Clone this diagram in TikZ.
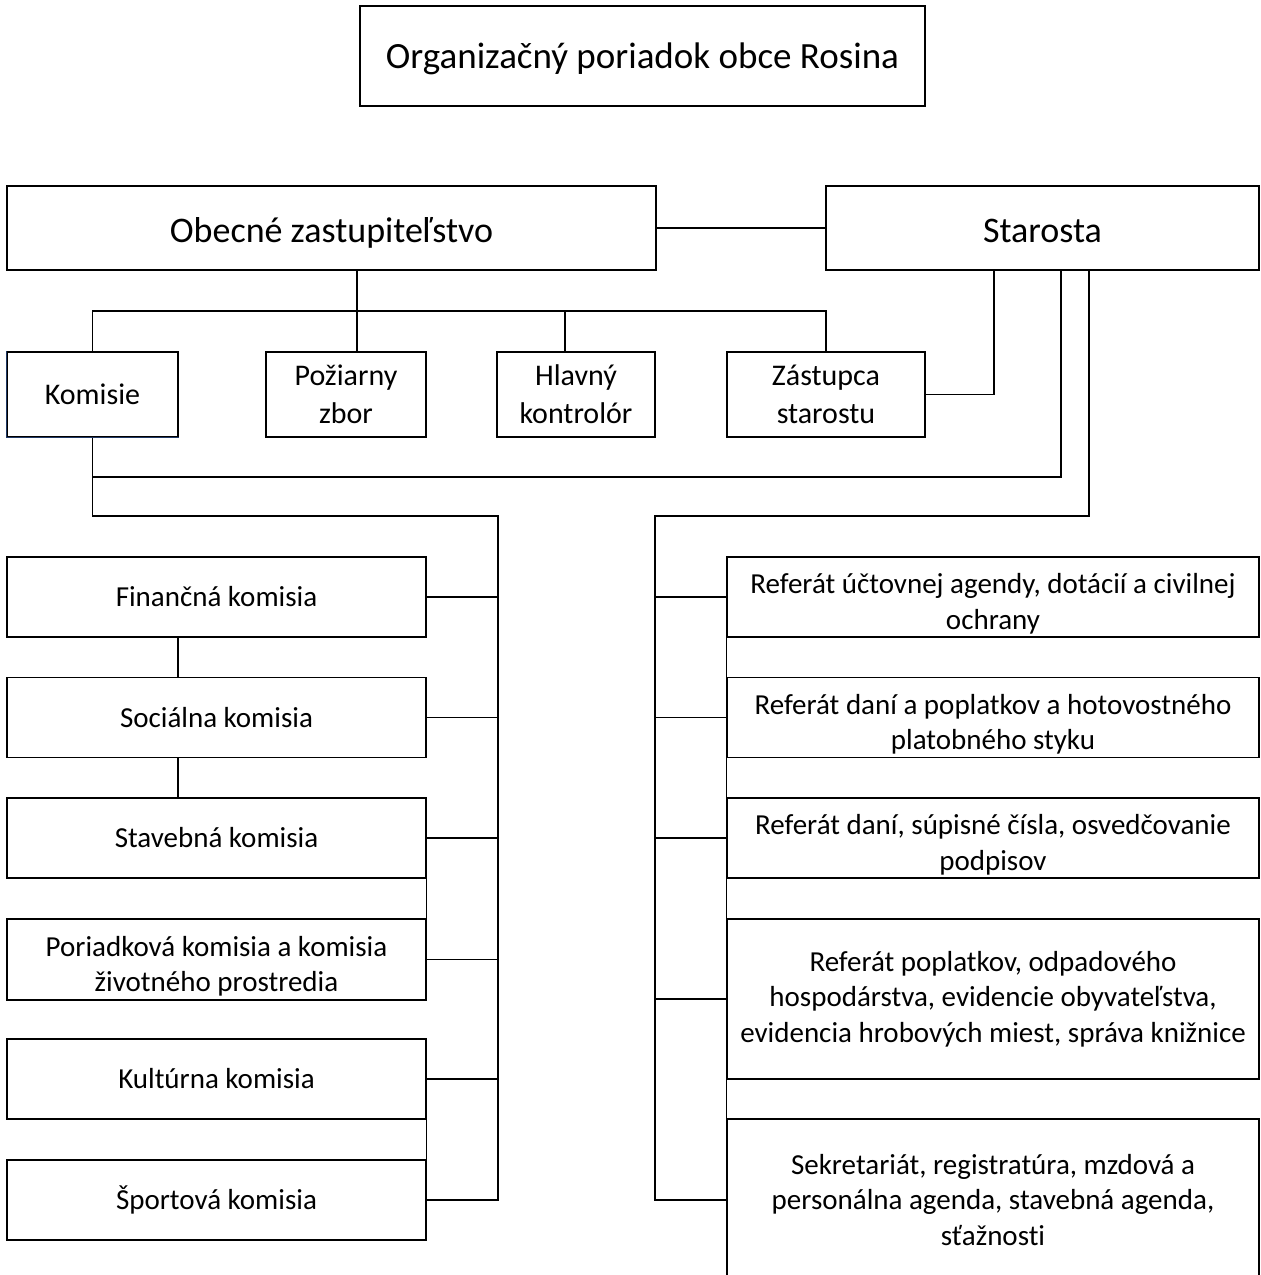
\documentclass[tikz,border=0pt]{standalone}
\usepackage{fontspec}
\setmainfont[Ligatures=NoCommon]{Carlito}
\definecolor{navy}{HTML}{1F3864}
\newcommand{\lowtxt}[1]{\raisebox{0pt}[30pt][37pt]{\begin{tabular}[t]{@{}c@{}}#1\end{tabular}}}
\tikzset{
  box/.style={draw=black, line width=1.4pt, inner sep=0pt, align=center, fill=white},
  fbig/.style={font=\fontsize{37}{45}\selectfont},
  fhead/.style={font=\fontsize{36}{44}\selectfont},
  fmid/.style={font=\fontsize{30}{38}\selectfont},
  fsm/.style={font=\fontsize{29}{35.5}\selectfont},
  conn/.style={line width=1.2pt},
  lcol/.style={box, fsm, minimum width=419pt, minimum height=80pt},
  rcol/.style={box, fsm, minimum width=532pt, minimum height=80pt}
}
\begin{document}
\begin{tikzpicture}[x=1pt, y=-1pt]
\useasboundingbox (0,0) rectangle (1261,1275);
\clip (0,0) rectangle (1261,1275);
\fill[white] (0,0) rectangle (1261,1275);

% title
\node[box, fbig, minimum width=565pt, minimum height=100pt, text height=32pt, text depth=8pt] (title) at (642.5,56) {Organizačný poriadok obce Rosina};

% top level
\node[box, fhead, line width=2.6pt, minimum width=649pt, minimum height=84pt, text height=36pt, text depth=8pt] (oz) at (331.5,228) {Obecné zastupiteľstvo};
\node[box, fhead, minimum width=433pt, minimum height=84pt, text height=36pt, text depth=8pt] (star) at (1042.5,228) {Starosta};

% second level
\node[box, fmid, minimum width=171pt, minimum height=85pt] (kom) at (92.5,394.5) {Komisie};
\node[box, fmid, minimum width=160pt, minimum height=85pt] (poz) at (346,394.5) {Požiarny\\zbor};
\node[box, fmid, minimum width=158pt, minimum height=85pt] (hlav) at (576,394.5) {Hlavný\\kontrolór};
\node[box, fmid, minimum width=198pt, minimum height=85pt] (zast) at (826,394.5) {Zástupca\\starostu};
\draw[navy, line width=1.4pt] (kom.north west) -- (kom.south west) -- (kom.south east);

% left column
\node[lcol] (fin) at (216.5,597) {Finančná komisia};
\node[lcol] (soc) at (216.5,717.5) {Sociálna komisia};
\node[lcol] (stav) at (216.5,838) {Stavebná komisia};
\node[lcol, minimum height=81pt] (por) at (216.5,959.5) {\lowtxt{Poriadková komisia a komisia\\životného prostredia}};
\node[lcol] (kult) at (216.5,1079) {Kultúrna komisia};
\node[lcol] (sport) at (216.5,1200) {Športová komisia};

% right column
\node[rcol] (r1) at (993,597) {\lowtxt{Referát účtovnej agendy, dotácií a civilnej\\ochrany}};
\node[rcol] (r2) at (993,717.5) {\lowtxt{Referát daní a poplatkov a hotovostného\\platobného styku}};
\node[rcol] (r3) at (993,838) {\lowtxt{Referát daní, súpisné čísla, osvedčovanie\\podpisov}};
\node[rcol, minimum height=160pt] (r4) at (993,999) {Referát poplatkov, odpadového\\hospodárstva, evidencie obyvateľstva,\\evidencia hrobových miest, správa knižnice};
\node[rcol, minimum height=162pt] (r5) at (993,1200) {Sekretariát, registratúra, mzdová a\\personálna agenda, stavebná agenda,\\sťažnosti};

% connectors top
\draw[conn] (oz.east) -- (star.west);
\coordinate (bar) at (0,311);
\draw[conn] ([xshift=25.5pt]oz.south) -- ([xshift=11pt]poz.north);
\draw[conn] (kom.north) |- (bar -| zast.north) -- (zast.north);
\draw[conn] ([xshift=-11pt]hlav.north) -- ([xshift=-11pt]hlav.north |- bar);
\draw[conn] ([xshift=-48.5pt]star.south) |- (zast.east);

% starosta to komisie bus
\coordinate (j1) at (92.5,477);
\coordinate (j2) at (92.5,516);
\coordinate (lbus) at (498,516);
\coordinate (rbus) at (655,516);
\draw[conn] ([xshift=18.5pt]star.south) |- (j1);
\draw[conn] (kom.south) -- (j2) -- (lbus) -- (lbus |- sport.east) -- (sport.east);
\draw[conn] ([xshift=46.5pt]star.south) |- (rbus) -- (rbus |- r5.west) -- (r5.west);

% left column connectors
\foreach \n in {fin,soc,stav,por,kult} \draw[conn] (\n.east) -- (\n.east -| lbus);
\draw[conn] ([xshift=-38.5pt]fin.south) -- ([xshift=-38.5pt]soc.north);
\draw[conn] ([xshift=-38.5pt]soc.south) -- ([xshift=-38.5pt]stav.north);
\draw[conn] (stav.south east) -- (por.north east);
\draw[conn] (kult.south east) -- (sport.north east);

% right column connectors
\foreach \n in {r1,r2,r3,r4} \draw[conn] (\n.west) -- (\n.west -| rbus);
\draw[conn] (r1.south west) -- (r2.north west);
\draw[conn] (r2.south west) -- (r3.north west);
\draw[conn] (r3.south west) -- (r4.north west);
\draw[conn] (r4.south west) -- (r5.north west);
\end{tikzpicture}
\end{document}
